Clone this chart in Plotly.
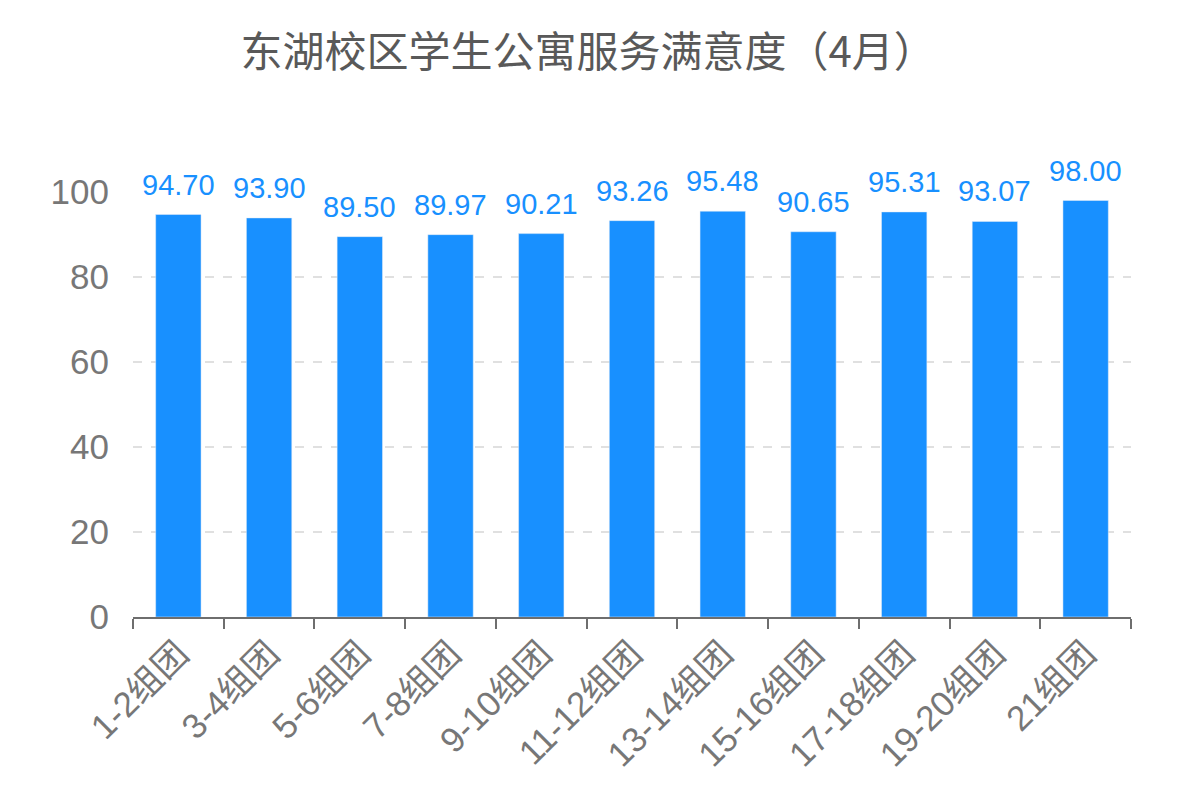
import plotly.graph_objects as go

groups = ["1-2组团", "3-4组团", "5-6组团", "7-8组团", "9-10组团", "11-12组团",
          "13-14组团", "15-16组团", "17-18组团", "19-20组团", "21组团"]
scores = [94.70, 93.90, 89.50, 89.97, 90.21, 93.26, 95.48, 90.65, 95.31, 93.07, 98.00]
y_ticks = [0, 20, 40, 60, 80, 100]

FONT = "Liberation Sans, Noto Sans CJK SC, sans-serif"
BLUE = "#1890ff"
GREY = "#777777"

fig = go.Figure(
    go.Bar(
        x=groups,
        y=scores,
        width=0.5,
        marker={"color": BLUE},
        hovertemplate="%{x}: %{y:.2f}<extra></extra>",
    )
)

# value labels sit a bit higher above the bars than plotly's outside text
for g, v in zip(groups, scores):
    fig.add_annotation(
        x=g,
        y=v,
        text=f"{v:.2f}",
        showarrow=False,
        yanchor="bottom",
        yshift=12,
        font={"color": BLUE, "size": 29, "family": FONT},
    )

# the page body adds 8px, so margins are 8px smaller than the measured positions
fig.update_layout(
    width=1178,
    height=800,
    paper_bgcolor="white",
    plot_bgcolor="white",
    margin={"l": 125, "r": 55, "t": 184, "b": 191},
    showlegend=False,
    title={
        "text": "东湖校区学生公寓服务满意度（4月）",
        "x": 0.4925,
        "xanchor": "center",
        "y": 0.945,
        "yanchor": "middle",
        "font": {"size": 42, "color": "#595959", "family": "Noto Sans CJK SC, sans-serif"},
    },
    font={"family": FONT, "color": GREY},
)

fig.update_xaxes(
    automargin=False,
    tickangle=-45,
    tickfont={"size": 35, "color": GREY, "family": FONT},
    showline=True,
    linecolor="#6e6e6e",
    linewidth=2,
    ticks="outside",
    ticklen=10,
    tickwidth=2,
    tickcolor="#6e6e6e",
    tickson="boundaries",
    showgrid=False,
)

fig.update_yaxes(
    automargin=False,
    range=[0, 100],
    tickvals=y_ticks,
    tickfont={"size": 35, "color": GREY, "family": FONT},
    showgrid=True,
    gridcolor="#e0e0e0",
    griddash="dash",
    gridwidth=1.5,
    zeroline=False,
    showline=False,
    ticks="",
    ticklabelstandoff=23,
)

fig.write_html("out.html")
